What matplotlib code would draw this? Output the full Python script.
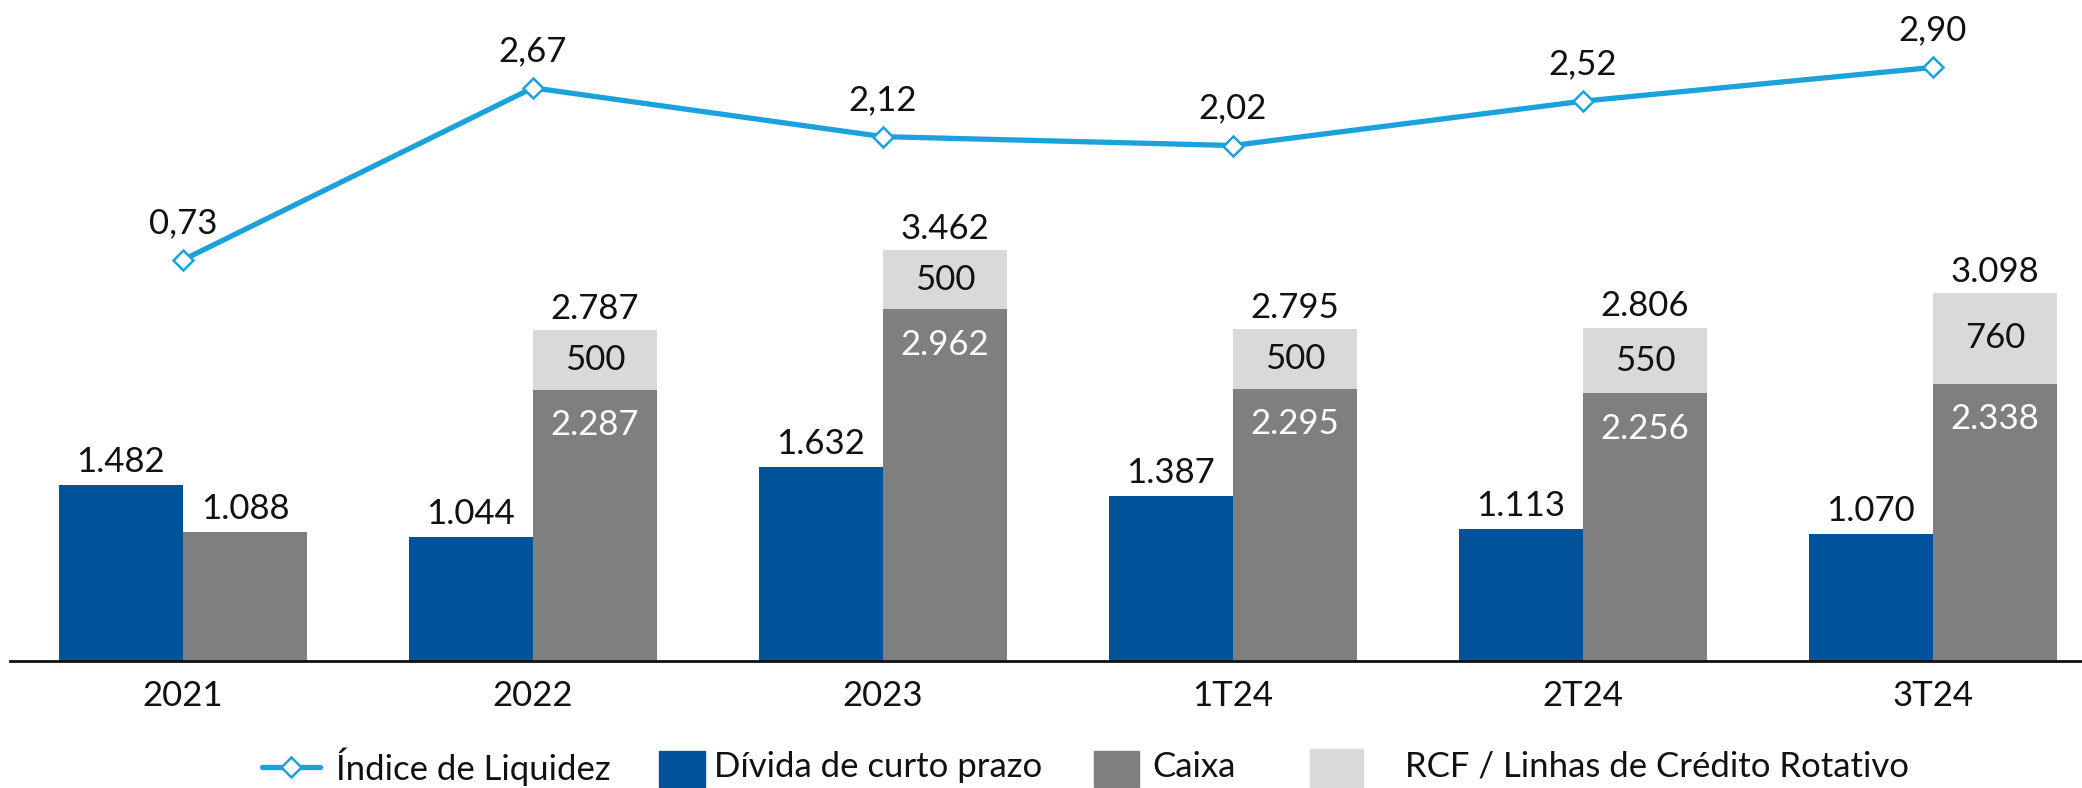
import matplotlib
matplotlib.use("Agg")
import matplotlib.pyplot as plt
from matplotlib.lines import Line2D
from matplotlib.patches import Rectangle
import numpy as np

plt.rcParams["font.family"] = ["Lato", "DejaVu Sans"]
plt.rcParams["font.weight"] = "normal"

# Data
periods = ["2021", "2022", "2023", "1T24", "2T24", "3T24"]
divida_curto_prazo = [1482, 1044, 1632, 1387, 1113, 1070]
caixa = [1088, 2287, 2962, 2295, 2256, 2338]
rcf = [0, 500, 500, 500, 550, 760]
indice_liquidez = [0.73, 2.67, 2.12, 2.02, 2.52, 2.90]

C_BLUE = "#00529B"
C_GRAY = "#7F7F7F"
C_LIGHT = "#D9D9D9"
C_LINE = "#1BA1DB"
C_TEXT = "#111111"


def fmt_int(v):
    return f"{v:,}".replace(",", ".")


def fmt_dec(v):
    return f"{v:.2f}".replace(".", ",")


W, H = 2082, 788
fig = plt.figure(figsize=(W / 100, H / 100), dpi=100)
bottom_px = 661
ax = fig.add_axes([10 / W, (H - bottom_px) / H, 1 - 10 / W, bottom_px / H])
ax2 = ax.twinx()

x = np.arange(len(periods))
bw = 0.355
xb = x - bw / 2
xc = x + bw / 2

ax.bar(xb, divida_curto_prazo, width=bw, color=C_BLUE, zorder=2)
ax.bar(xc, caixa, width=bw, color=C_GRAY, zorder=2)
ax.bar(xc, rcf, width=bw, bottom=caixa, color=C_LIGHT, zorder=2)

ax.set_xlim(-0.494, 5.426)
ax.set_ylim(0, 5570)

fs = 25
for i in range(len(periods)):
    ax.annotate(fmt_int(divida_curto_prazo[i]), (xb[i], divida_curto_prazo[i]),
                xytext=(0, 5), textcoords="offset points", ha="center", va="bottom",
                fontsize=fs, color=C_TEXT)
    total = caixa[i] + rcf[i]
    if rcf[i] > 0:
        ax.annotate(fmt_int(total), (xc[i], total), xytext=(0, 4),
                    textcoords="offset points", ha="center", va="bottom",
                    fontsize=fs, color=C_TEXT)
        ax.text(xc[i], caixa[i] + rcf[i] / 2, fmt_int(rcf[i]), ha="center",
                va="center", fontsize=fs, color=C_TEXT)
        ax.annotate(fmt_int(caixa[i]), (xc[i], caixa[i]), xytext=(0, -14),
                    textcoords="offset points", ha="center", va="top",
                    fontsize=fs, color="white")
    else:
        ax.annotate(fmt_int(caixa[i]), (xc[i], caixa[i]), xytext=(0, 5),
                    textcoords="offset points", ha="center", va="bottom",
                    fontsize=fs, color=C_TEXT)

ax2.plot(x, indice_liquidez, color=C_LINE, lw=3.8, marker="D", markersize=10,
         markerfacecolor="white", markeredgecolor=C_LINE, markeredgewidth=1.8,
         zorder=3)
ax2.set_ylim(-3.79, 3.66)
for i, v in enumerate(indice_liquidez):
    ax2.annotate(fmt_dec(v), (x[i], v), xytext=(0, 15), textcoords="offset points",
                 ha="center", va="bottom", fontsize=fs, color=C_TEXT)

for a in (ax, ax2):
    for s in ("top", "right", "left"):
        a.spines[s].set_visible(False)
    a.set_yticks([])
ax2.spines["bottom"].set_visible(False)
ax.spines["bottom"].set_linewidth(2)
ax.spines["bottom"].set_color("#111111")
ax.set_xticks(x)
ax.set_xticklabels(periods, fontsize=fs, color=C_TEXT)
ax.tick_params(axis="x", length=0, pad=14)
ax.patch.set_visible(False)

# Legend row, laid out in figure pixels
lg = fig.add_axes([0, 0, 1, 1], zorder=5)
lg.set_xlim(0, W)
lg.set_ylim(H, 0)
lg.axis("off")
ly = 767
lg.add_line(Line2D([262, 320], [ly, ly], color=C_LINE, lw=3.8,
                   solid_capstyle="round"))
lg.add_line(Line2D([291], [ly], marker="D", markersize=10, markerfacecolor="white",
                   markeredgecolor=C_LINE, markeredgewidth=1.8, linestyle="none"))
lg.add_patch(Rectangle((659, 751), 46, 36, color=C_BLUE))
lg.add_patch(Rectangle((1094, 751), 45, 36, color=C_GRAY))
lg.add_patch(Rectangle((1310, 749), 53, 39, color=C_LIGHT))
legend_items = [(336, "Índice de Liquidez"), (714, "Dívida de curto prazo"),
                (1152, "Caixa"), (1405, "RCF / Linhas de Crédito Rotativo")]
for tx, label in legend_items:
    lg.text(tx, ly, label, ha="left", va="center", fontsize=25, color=C_TEXT)

fig.savefig("out.png", dpi=100)
